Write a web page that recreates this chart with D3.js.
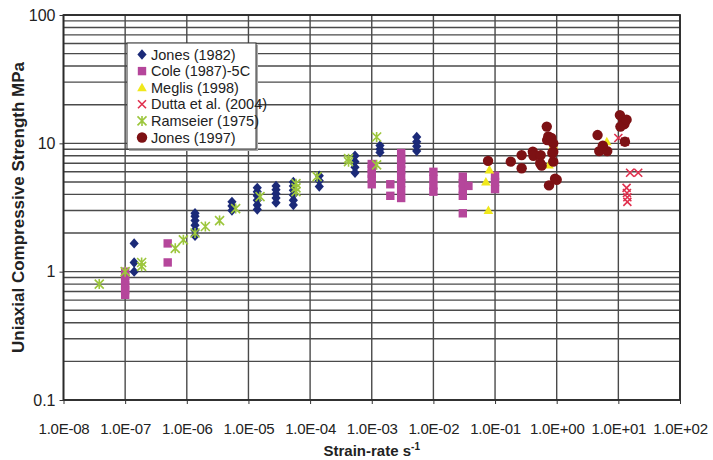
<!DOCTYPE html>
<html>
<head>
<meta charset="utf-8">
<script src="https://cdn.jsdelivr.net/npm/d3@7"></script>
<style>
  body { margin: 0; background: #fff; }
  svg { display: block; font-family: "Liberation Sans", Arial, sans-serif; }
</style>
</head>
<body>
<svg id="chart" width="713" height="460"></svg>
<script>
// strain-rate [s-1], strength [MPa]
var jones1982 = [
  [1.4e-7, 1.0], [1.4e-7, 1.18], [1.4e-7, 1.66],
  [1.36e-6, 1.9], [1.36e-6, 2.1], [1.36e-6, 2.3], [1.36e-6, 2.5], [1.36e-6, 2.7], [1.36e-6, 2.85],
  [5.4e-6, 3.0], [5.4e-6, 3.25], [5.4e-6, 3.5],
  [1.39e-5, 3.05], [1.39e-5, 3.3], [1.39e-5, 3.6], [1.39e-5, 3.9], [1.39e-5, 4.2], [1.39e-5, 4.5],
  [2.8e-5, 3.45], [2.8e-5, 3.75], [2.8e-5, 4.05], [2.8e-5, 4.35], [2.8e-5, 4.65],
  [5.35e-5, 3.3], [5.35e-5, 3.6], [5.35e-5, 3.95], [5.35e-5, 4.3], [5.35e-5, 4.65], [5.35e-5, 5.0],
  [1.41e-4, 4.6], [1.41e-4, 5.1], [1.41e-4, 5.6],
  [5.35e-4, 5.9], [5.35e-4, 6.5], [5.35e-4, 7.2], [5.35e-4, 8.0],
  [1.36e-3, 8.5], [1.36e-3, 9.0], [1.36e-3, 9.6],
  [5.36e-3, 8.7], [5.36e-3, 9.5], [5.36e-3, 10.3], [5.36e-3, 11.2]
];
var cole1987 = [
  [1e-7, 0.66], [1e-7, 0.72], [1e-7, 0.78], [1e-7, 0.85], [1e-7, 0.93], [1e-7, 1.0],
  [4.9e-7, 1.18], [4.9e-7, 1.66],
  [1e-3, 4.8], [1e-3, 5.3], [1e-3, 5.8], [1e-3, 6.3], [1e-3, 6.9],
  [2e-3, 3.9], [2e-3, 4.8],
  [3e-3, 3.75], [3e-3, 4.3], [3e-3, 4.9], [3e-3, 5.5], [3e-3, 6.2], [3e-3, 6.9], [3e-3, 7.6], [3e-3, 8.4],
  [1e-2, 4.2], [1e-2, 4.7], [1e-2, 5.3], [1e-2, 6.0],
  [3e-2, 2.85], [3e-2, 3.9], [3e-2, 4.4], [3e-2, 4.9], [3e-2, 5.5], [3.7e-2, 4.66],
  [0.1, 4.4], [0.1, 5.0], [0.1, 5.6]
];
var meglis1998 = [
  [7.1e-2, 5.0], [8.1e-2, 6.2], [7.8e-2, 3.0], [0.75, 6.8], [0.88, 9.7], [6.5, 10.3]
];
var dutta2004 = [
  [10, 11.0], [12.8, 10.3], [15.5, 5.9], [21, 5.9], [13.6, 4.5], [13.8, 4.1], [14, 3.8], [14, 3.5]
];
var ramseier1975 = [
  [3.8e-8, 0.8], [1e-7, 1.0], [1.85e-7, 1.1], [1.85e-7, 1.18], [6.5e-7, 1.52], [8.8e-7, 1.77],
  [1.36e-6, 2.0], [2e-6, 2.25], [3.4e-6, 2.5], [6.2e-6, 3.1], [1.54e-5, 3.84],
  [5.9e-5, 4.2], [5.9e-5, 4.5], [5.9e-5, 4.85], [1.3e-4, 5.5], [4.2e-4, 7.6], [4.2e-4, 7.2],
  [1.2e-3, 11.2], [1.2e-3, 6.8]
];
var jones1997 = [
  [7.7e-2, 7.3], [0.18, 7.2], [0.27, 8.1], [0.27, 6.4], [0.41, 8.6], [0.42, 8.0], [0.55, 8.1],
  [0.57, 6.7], [0.54, 7.0], [0.69, 13.5], [0.7, 10.6], [0.73, 11.3], [0.82, 11.0], [0.88, 8.6],
  [0.88, 7.2], [0.88, 10.0], [0.94, 5.3], [0.75, 4.7], [1.0, 5.2], [0.85, 8.4],
  [4.6, 11.6], [4.9, 8.7], [6.6, 8.7], [5.6, 9.6], [10.6, 16.6], [12, 15.3], [12.5, 14.1],
  [10.8, 13.5], [13.6, 15.3], [12.8, 10.3]
];

var xTicks = [1e-8, 1e-7, 1e-6, 1e-5, 1e-4, 1e-3, 1e-2, 1e-1, 1e0, 1e1, 1e2];
var xTickLabels = ['1.0E-08', '1.0E-07', '1.0E-06', '1.0E-05', '1.0E-04', '1.0E-03',
  '1.0E-02', '1.0E-01', '1.0E+00', '1.0E+01', '1.0E+02'];
var yTicks = [0.1, 1, 10, 100];
var yTickLabels = ['0.1', '1', '10', '100'];

var series = [
  { name: 'Jones (1982)', data: jones1982, shape: 'diamond', color: '#1b2a78' },
  { name: 'Cole (1987)-5C', data: cole1987, shape: 'square', color: '#b5469b' },
  { name: 'Meglis (1998)', data: meglis1998, shape: 'triangle', color: '#f0e81c' },
  { name: 'Dutta et al. (2004)', data: dutta2004, shape: 'cross', color: '#e0304e' },
  { name: 'Ramseier (1975)', data: ramseier1975, shape: 'star', color: '#9cc63c' },
  { name: 'Jones (1997)', data: jones1997, shape: 'circle', color: '#7d1114' }
];

var margin = { top: 15, right: 33, bottom: 60, left: 63.5 },
  width = 713 - margin.left - margin.right,
  height = 460 - margin.top - margin.bottom;

var x = d3.scaleLog().domain([1e-8, 1e2]).range([0, width]);
var y = d3.scaleLog().domain([0.1, 100]).range([height, 0]);

var svg = d3.select('#chart');
svg.append('rect').attr('width', 713).attr('height', 460).attr('fill', '#fff');

var g = svg.append('g')
  .attr('transform', 'translate(' + margin.left + ',' + margin.top + ')');

// horizontal grid at every 1..9 x decade
var yGrid = [];
[0.1, 1, 10].forEach(function (d) {
  for (var k = 1; k < 10; k++) yGrid.push(d * k);
});
yGrid.push(100);

g.selectAll('.hgrid')
  .data(yGrid)
  .enter()
  .append('line')
  .attr('class', 'hgrid')
  .attr('x1', 0).attr('x2', width)
  .attr('y1', function (d) { return y(d); })
  .attr('y2', function (d) { return y(d); })
  .attr('stroke', '#4a4a4a')
  .attr('stroke-width', 1.4);

g.selectAll('.vgrid')
  .data(xTicks)
  .enter()
  .append('line')
  .attr('class', 'vgrid')
  .attr('y1', 0).attr('y2', height)
  .attr('x1', function (d) { return x(d); })
  .attr('x2', function (d) { return x(d); })
  .attr('stroke', '#4a4a4a')
  .attr('stroke-width', 1.4);

g.append('rect')
  .attr('width', width).attr('height', height)
  .attr('fill', 'none')
  .attr('stroke', '#2a2a2a')
  .attr('stroke-width', 1.8);

// axes
var xAxis = g.append('g')
  .attr('transform', 'translate(0,' + height + ')')
  .call(d3.axisBottom(x).tickValues(xTicks).tickSize(4).tickPadding(19)
    .tickFormat(function (d, i) { return xTickLabels[i]; }));
xAxis.select('.domain').remove();
xAxis.selectAll('line').attr('stroke', '#333');
xAxis.selectAll('text')
  .attr('fill', '#222')
  .style('font-size', '15px')
  .style('letter-spacing', '-0.25px')
  .style('font-family', '"Liberation Sans", Arial, sans-serif');

var yAxis = g.append('g')
  .call(d3.axisLeft(y).tickValues(yTicks).tickSize(4).tickPadding(4)
    .tickFormat(function (d, i) { return yTickLabels[i]; }));
yAxis.select('.domain').remove();
yAxis.selectAll('line').attr('stroke', '#333');
yAxis.selectAll('text')
  .attr('fill', '#222')
  .style('font-size', '16px')
  .style('font-family', '"Liberation Sans", Arial, sans-serif');

// axis titles
svg.append('text')
  .attr('x', margin.left + width / 2)
  .attr('y', 456)
  .attr('text-anchor', 'middle')
  .attr('font-weight', 'bold')
  .attr('font-size', '15px')
  .attr('fill', '#222')
  .text('Strain-rate s')
  .append('tspan')
  .attr('dy', -6)
  .attr('font-size', '10px')
  .text('-1');

svg.append('text')
  .attr('transform', 'translate(24,' + (margin.top + height / 2) + ') rotate(-90)')
  .attr('text-anchor', 'middle')
  .attr('font-weight', 'bold')
  .attr('font-size', '17px')
  .attr('fill', '#222')
  .text('Uniaxial Compressive Strength MPa');

// marker paths centred on 0,0
function markerPath(shape) {
  switch (shape) {
    case 'diamond': return 'M0,-5.2L4.6,0L0,5.2L-4.6,0Z';
    case 'square': return 'M-4.2,-4.2H4.2V4.2H-4.2Z';
    case 'triangle': return 'M0,-5L4.8,3.6H-4.8Z';
    case 'cross': return 'M-4,-4L4,4M-4,4L4,-4';
    case 'star': return 'M-4.5,-4.5L4.5,4.5M-4.5,4.5L4.5,-4.5M0,-5V5';
    default: return d3.symbol().type(d3.symbolCircle).size(85)();
  }
}

function drawMarker(sel, s) {
  var line = s.shape === 'cross' || s.shape === 'star';
  sel.attr('d', markerPath(s.shape))
    .attr('fill', line ? 'none' : s.color)
    .attr('stroke', line ? s.color : 'none')
    .attr('stroke-width', line ? 1.6 : 0);
}

series.forEach(function (s) {
  g.append('g')
    .selectAll('path')
    .data(s.data)
    .enter()
    .append('path')
    .attr('transform', function (d) {
      return 'translate(' + x(d[0]) + ',' + y(d[1]) + ')';
    })
    .call(drawMarker, s);
});

// legend
var legend = svg.append('g').attr('transform', 'translate(127,43)');
legend.append('rect')
  .attr('x', 2).attr('y', 2)
  .attr('width', 129).attr('height', 106)
  .attr('fill', '#aaa');
legend.append('rect')
  .attr('width', 129).attr('height', 106)
  .attr('fill', '#fff')
  .attr('stroke', '#333')
  .attr('stroke-width', 1);

var items = legend.selectAll('.item')
  .data(series)
  .enter()
  .append('g')
  .attr('class', 'item')
  .attr('transform', function (d, i) { return 'translate(15,' + (11.5 + i * 16.6) + ')'; });

items.append('path').each(function (s) { d3.select(this).call(drawMarker, s); });
items.append('text')
  .attr('x', 9)
  .attr('dy', '0.35em')
  .attr('font-size', '14.5px')
  .attr('fill', '#222')
  .text(function (d) { return d.name; });
</script>
</body>
</html>
